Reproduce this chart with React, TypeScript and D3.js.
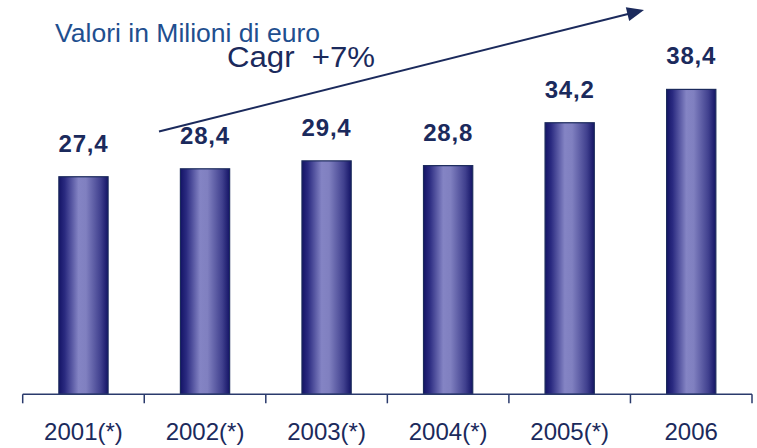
import React from "react";
import * as d3 from "d3";

const categories = ["2001(*)", "2002(*)", "2003(*)", "2004(*)", "2005(*)", "2006"];
const values = [27.4, 28.4, 29.4, 28.8, 34.2, 38.4];
const valueLabels = ["27,4", "28,4", "29,4", "28,8", "34,2", "38,4"];
const subtitle = "Valori in Milioni di euro";
const cagrLabel = "Cagr  +7%";

const W = 757;
const H = 448;
const FONT = "'Liberation Sans', Arial, Helvetica, sans-serif";
const NAVY = "#1b2a5c";

export default function App() {
  const x = d3.scaleBand<string>().domain(categories).range([22.7, 752]).padding(0);
  const y = d3.scaleLinear().domain([0, 40]).range([394.3, 394.3 - 317.6]);
  const bw = x.bandwidth() * 0.405;
  const boundaries = categories.map((c) => x(c)!).concat([x.range()[1]]);

  return (
    <svg
      width={W}
      height={H}
      style={{ position: "absolute", left: 0, top: 0, background: "#fff" }}
      fontFamily={FONT}
    >
      <defs>
        <linearGradient id="barGrad" x1="0" x2="1" y1="0" y2="0">
          <stop offset="0%" stopColor="#141466" />
          <stop offset="12%" stopColor="#2a2a80" />
          <stop offset="40%" stopColor="#8484c4" />
          <stop offset="55%" stopColor="#8080c0" />
          <stop offset="85%" stopColor="#40408e" />
          <stop offset="100%" stopColor="#141466" />
        </linearGradient>
      </defs>

      <text x={55} y={41.5} fontSize={26} fill="#1f4f8f" textLength={265} lengthAdjust="spacingAndGlyphs">
        {subtitle}
      </text>
      <text
        x={227}
        y={67}
        fontSize={29}
        fill={NAVY}
        textLength={148}
        lengthAdjust="spacingAndGlyphs"
        style={{ whiteSpace: "pre" }}
        xmlSpace="preserve"
      >
        {cagrLabel}
      </text>

      <line x1={159} y1={131.5} x2={632} y2={13} stroke={NAVY} strokeWidth={2} />
      <polygon points="644,10 625.8,7.3 629.2,20.9" fill={NAVY} />

      {categories.map((c, i) => {
        const cx = x(c)! + x.bandwidth() / 2;
        const top = y(values[i]);
        return (
          <g key={c}>
            <rect
              x={cx - bw / 2}
              y={top}
              width={bw}
              height={y(0) - top}
              fill="url(#barGrad)"
              stroke="#1b2a5c"
              strokeWidth={1.2}
            />
            <text
              x={cx}
              y={top - 25}
              textAnchor="middle"
              fontSize={24}
              fontWeight="bold"
              fill={NAVY}
              letterSpacing={0.8}
            >
              {valueLabels[i]}
            </text>
            <text x={cx} y={440} textAnchor="middle" fontSize={24} fill={NAVY}>
              {c}
            </text>
          </g>
        );
      })}

      <line x1={x.range()[0]} x2={x.range()[1]} y1={y(0)} y2={y(0)} stroke="#2a3a6c" strokeWidth={1.5} />
      {boundaries.map((b, i) => (
        <line key={i} x1={b} x2={b} y1={y(0)} y2={y(0) + 9} stroke="#2a3a6c" strokeWidth={1.5} />
      ))}
    </svg>
  );
}
